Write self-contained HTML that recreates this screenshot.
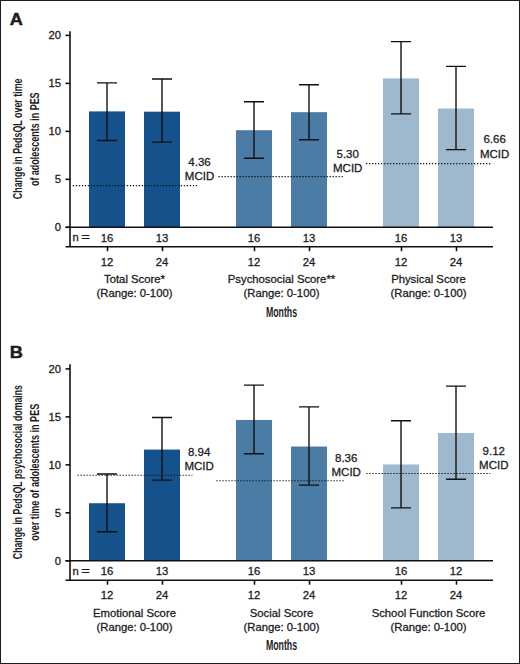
<!DOCTYPE html>
<html><head><meta charset="utf-8"><style>
html,body{margin:0;padding:0;background:#fff;}
body{width:520px;height:664px;overflow:hidden;}
svg{display:block;}
text{font-family:"Liberation Sans",sans-serif;fill:#1d1d1f;stroke:#1d1d1f;stroke-width:0.3px;}
.lt{font-size:16.5px;font-weight:bold;stroke-width:0.5px;}
.tk{font-size:11.3px;}
.mc{font-size:11.5px;}
.yl{font-size:12.8px;font-weight:bold;stroke-width:0;}
.mo{font-size:14.4px;font-weight:bold;stroke-width:0;}
.ax{stroke:#111;stroke-width:1.6;fill:none;}
.eb{stroke:#111;stroke-width:1.4;fill:none;}
.dot{stroke:#111;stroke-width:1.1;stroke-dasharray:1.3 1.7;}
</style></head><body>
<svg width="520" height="664" viewBox="0 0 520 664">
<rect x="0.5" y="0.5" width="519" height="663" fill="#fff" stroke="#1d1d1f" stroke-width="1"/>
<g transform="translate(9.8,24.5) scale(1.1,1)"><text x="0" y="0" class="lt">A</text></g>
<g transform="translate(22.3,138.8) rotate(-90)"><text x="-60.4" y="0" class="yl" textLength="120.7" lengthAdjust="spacingAndGlyphs">Change in PedsQL over time</text></g>
<g transform="translate(38.8,139.2) rotate(-90)"><text x="-46.9" y="0" class="yl" textLength="93.7" lengthAdjust="spacingAndGlyphs">of adolescents in PES</text></g>
<rect x="89" y="111.39" width="36" height="115.91" fill="#15528b"/>
<rect x="144" y="111.68" width="36" height="115.62" fill="#15528b"/>
<rect x="236" y="130.20" width="36" height="97.10" fill="#4b7ca6"/>
<rect x="291" y="112.16" width="36" height="115.14" fill="#4b7ca6"/>
<rect x="383" y="78.39" width="36" height="148.91" fill="#9eb9ce"/>
<rect x="438" y="108.51" width="36" height="118.79" fill="#9eb9ce"/>
<line x1="72.8" x2="198.3" y1="185.67" y2="185.67" class="dot"/>
<line x1="218.5" x2="343.8" y1="176.65" y2="176.65" class="dot"/>
<line x1="366" x2="491.4" y1="163.60" y2="163.60" class="dot"/>
<path d="M107 82.90V140.47M97 82.90H117M97 140.47H117" class="eb"/>
<path d="M162 78.96V142.10M152 78.96H172M152 142.10H172" class="eb"/>
<path d="M254 101.80V158.22M244 101.80H264M244 158.22H264" class="eb"/>
<path d="M309 84.72V139.70M299 84.72H319M299 139.70H319" class="eb"/>
<path d="M401 41.64V113.89M391 41.64H411M391 113.89H411" class="eb"/>
<path d="M456 66.39V149.58M446 66.39H466M446 149.58H466" class="eb"/>
<path d="M70 31.20V246.80" class="ax"/>
<path d="M65.5 227.30H70" class="ax"/>
<text x="61" y="231.20" class="tk" text-anchor="end">0</text>
<path d="M65.5 179.33H70" class="ax"/>
<text x="61" y="183.23" class="tk" text-anchor="end">5</text>
<path d="M65.5 131.35H70" class="ax"/>
<text x="61" y="135.25" class="tk" text-anchor="end">10</text>
<path d="M65.5 83.38H70" class="ax"/>
<text x="61" y="87.28" class="tk" text-anchor="end">15</text>
<path d="M65.5 35.40H70" class="ax"/>
<text x="61" y="39.30" class="tk" text-anchor="end">20</text>
<path d="M65.5 227.30H493M65.5 246.80H493" class="ax"/>
<path d="M107.5 246.80V251.20" class="ax"/>
<path d="M162.5 246.80V251.20" class="ax"/>
<path d="M254.5 246.80V251.20" class="ax"/>
<path d="M309.5 246.80V251.20" class="ax"/>
<path d="M401.5 246.80V251.20" class="ax"/>
<path d="M456.5 246.80V251.20" class="ax"/>
<text x="72.5" y="241.2" class="tk">n</text>
<g transform="translate(81.2,241.2) scale(1.3,1)"><text x="0" y="0" class="tk">=</text></g>
<text x="107" y="241.5" class="tk" text-anchor="middle">16</text>
<text x="107" y="265.6" class="tk" text-anchor="middle">12</text>
<text x="162" y="241.5" class="tk" text-anchor="middle">13</text>
<text x="162" y="265.6" class="tk" text-anchor="middle">24</text>
<text x="254" y="241.5" class="tk" text-anchor="middle">16</text>
<text x="254" y="265.6" class="tk" text-anchor="middle">12</text>
<text x="309" y="241.5" class="tk" text-anchor="middle">13</text>
<text x="309" y="265.6" class="tk" text-anchor="middle">24</text>
<text x="401" y="241.5" class="tk" text-anchor="middle">16</text>
<text x="401" y="265.6" class="tk" text-anchor="middle">12</text>
<text x="456" y="241.5" class="tk" text-anchor="middle">13</text>
<text x="456" y="265.6" class="tk" text-anchor="middle">24</text>
<text x="134.5" y="283.2" class="tk" text-anchor="middle">Total Score*</text>
<text x="134.5" y="297.2" class="tk" text-anchor="middle">(Range: 0-100)</text>
<text x="281.5" y="283.2" class="tk" text-anchor="middle">Psychosocial Score**</text>
<text x="281.5" y="297.2" class="tk" text-anchor="middle">(Range: 0-100)</text>
<text x="428.5" y="283.2" class="tk" text-anchor="middle">Physical Score</text>
<text x="428.5" y="297.2" class="tk" text-anchor="middle">(Range: 0-100)</text>
<g transform="translate(281.5,316.8)"><text x="0" y="0" class="mo" text-anchor="middle" transform="scale(0.61,1)">Months</text></g>
<text x="199.5" y="165.8" class="mc" text-anchor="middle">4.36</text>
<text x="199.5" y="180.2" class="mc" text-anchor="middle">MCID</text>
<text x="347.7" y="157.7" class="mc" text-anchor="middle">5.30</text>
<text x="347.7" y="172.1" class="mc" text-anchor="middle">MCID</text>
<text x="494.6" y="143.3" class="mc" text-anchor="middle">6.66</text>
<text x="494.6" y="157.7" class="mc" text-anchor="middle">MCID</text>
<g transform="translate(9.8,358.0) scale(1.1,1)"><text x="0" y="0" class="lt">B</text></g>
<g transform="translate(22.3,472.1) rotate(-90)"><text x="-87.1" y="0" class="yl" textLength="174.2" lengthAdjust="spacingAndGlyphs">Change in PedsQL psychosocial domains</text></g>
<g transform="translate(38.8,472.3) rotate(-90)"><text x="-68.5" y="0" class="yl" textLength="137.0" lengthAdjust="spacingAndGlyphs">over time of adolescents in PES</text></g>
<rect x="89" y="503.23" width="36" height="57.57" fill="#15528b"/>
<rect x="144" y="449.59" width="36" height="111.21" fill="#15528b"/>
<rect x="236" y="419.95" width="36" height="140.85" fill="#4b7ca6"/>
<rect x="291" y="446.52" width="36" height="114.28" fill="#4b7ca6"/>
<rect x="383" y="464.47" width="36" height="96.33" fill="#9eb9ce"/>
<rect x="438" y="432.99" width="36" height="127.81" fill="#9eb9ce"/>
<line x1="77.5" x2="192.4" y1="475.22" y2="475.22" class="dot"/>
<line x1="216.4" x2="345.3" y1="480.79" y2="480.79" class="dot"/>
<line x1="366.4" x2="490.4" y1="473.49" y2="473.49" class="dot"/>
<path d="M107 473.97V531.82M97 473.97H117M97 531.82H117" class="eb"/>
<path d="M162 417.45V480.11M152 417.45H172M152 480.11H172" class="eb"/>
<path d="M254 385.12V453.72M244 385.12H264M244 453.72H264" class="eb"/>
<path d="M309 406.90V485.10M299 406.90H319M299 485.10H319" class="eb"/>
<path d="M401 420.81V507.84M391 420.81H411M391 507.84H411" class="eb"/>
<path d="M456 386.08V479.24M446 386.08H466M446 479.24H466" class="eb"/>
<path d="M70 364.20V580.30" class="ax"/>
<path d="M65.5 560.80H70" class="ax"/>
<text x="61" y="564.70" class="tk" text-anchor="end">0</text>
<path d="M65.5 512.82H70" class="ax"/>
<text x="61" y="516.72" class="tk" text-anchor="end">5</text>
<path d="M65.5 464.85H70" class="ax"/>
<text x="61" y="468.75" class="tk" text-anchor="end">10</text>
<path d="M65.5 416.88H70" class="ax"/>
<text x="61" y="420.77" class="tk" text-anchor="end">15</text>
<path d="M65.5 368.90H70" class="ax"/>
<text x="61" y="372.80" class="tk" text-anchor="end">20</text>
<path d="M65.5 560.80H493M65.5 580.30H493" class="ax"/>
<path d="M107.5 580.30V584.70" class="ax"/>
<path d="M162.5 580.30V584.70" class="ax"/>
<path d="M254.5 580.30V584.70" class="ax"/>
<path d="M309.5 580.30V584.70" class="ax"/>
<path d="M401.5 580.30V584.70" class="ax"/>
<path d="M456.5 580.30V584.70" class="ax"/>
<text x="72.5" y="574.7" class="tk">n</text>
<g transform="translate(81.2,574.7) scale(1.3,1)"><text x="0" y="0" class="tk">=</text></g>
<text x="107" y="575.0" class="tk" text-anchor="middle">16</text>
<text x="107" y="599.1" class="tk" text-anchor="middle">12</text>
<text x="162" y="575.0" class="tk" text-anchor="middle">13</text>
<text x="162" y="599.1" class="tk" text-anchor="middle">24</text>
<text x="254" y="575.0" class="tk" text-anchor="middle">16</text>
<text x="254" y="599.1" class="tk" text-anchor="middle">12</text>
<text x="309" y="575.0" class="tk" text-anchor="middle">13</text>
<text x="309" y="599.1" class="tk" text-anchor="middle">24</text>
<text x="401" y="575.0" class="tk" text-anchor="middle">16</text>
<text x="401" y="599.1" class="tk" text-anchor="middle">12</text>
<text x="456" y="575.0" class="tk" text-anchor="middle">12</text>
<text x="456" y="599.1" class="tk" text-anchor="middle">24</text>
<text x="134.5" y="616.7" class="tk" text-anchor="middle">Emotional Score</text>
<text x="134.5" y="630.7" class="tk" text-anchor="middle">(Range: 0-100)</text>
<text x="281.5" y="616.7" class="tk" text-anchor="middle">Social Score</text>
<text x="281.5" y="630.7" class="tk" text-anchor="middle">(Range: 0-100)</text>
<text x="428.5" y="616.7" class="tk" text-anchor="middle">School Function Score</text>
<text x="428.5" y="630.7" class="tk" text-anchor="middle">(Range: 0-100)</text>
<g transform="translate(281.5,650.3)"><text x="0" y="0" class="mo" text-anchor="middle" transform="scale(0.61,1)">Months</text></g>
<text x="199.1" y="455.8" class="mc" text-anchor="middle">8.94</text>
<text x="199.1" y="470.2" class="mc" text-anchor="middle">MCID</text>
<text x="346.2" y="461.7" class="mc" text-anchor="middle">8.36</text>
<text x="346.2" y="476.1" class="mc" text-anchor="middle">MCID</text>
<text x="493.8" y="454.5" class="mc" text-anchor="middle">9.12</text>
<text x="493.8" y="468.9" class="mc" text-anchor="middle">MCID</text>
</svg>
</body></html>
